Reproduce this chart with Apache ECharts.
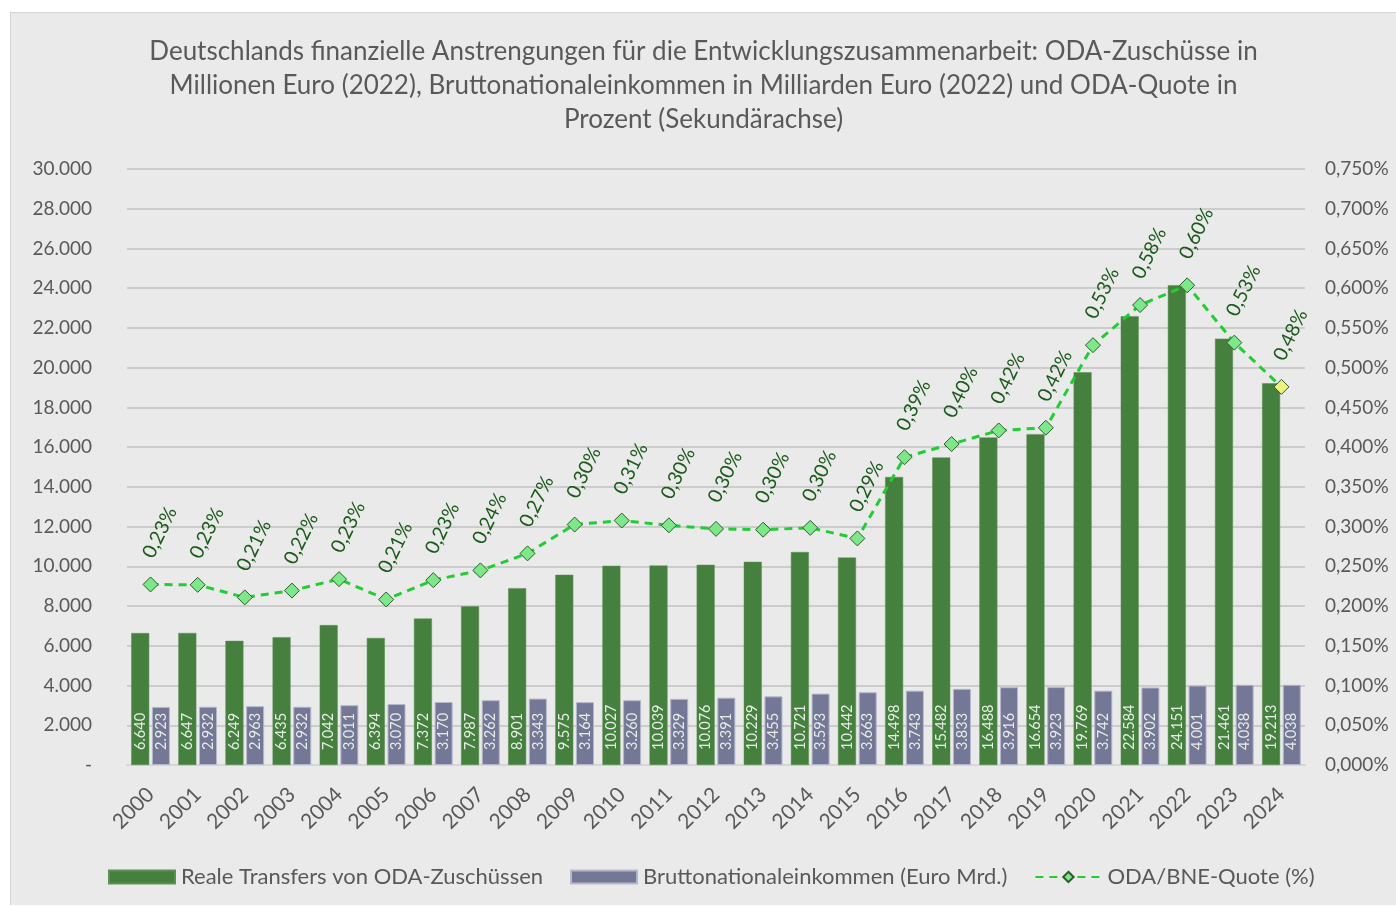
<!DOCTYPE html>
<html>
<head>
<meta charset="utf-8">
<script src="https://cdn.jsdelivr.net/npm/echarts@6/dist/echarts.min.js"></script>
<style>
  html, body { margin: 0; padding: 0; background: #ffffff; }
  #chart {
    position: absolute; left: 10px; top: 12px;
    width: 1386px; height: 893px;
    background: #eaeaea;
    border-left: 1px solid #d4d4d4; border-top: 1px solid #d4d4d4;
    box-sizing: border-box;
  }
</style>
</head>
<body>
<div id="chart"></div>
<script>
// Jahre
const years = ['2000','2001','2002','2003','2004','2005','2006','2007','2008','2009','2010','2011','2012',
  '2013','2014','2015','2016','2017','2018','2019','2020','2021','2022','2023','2024'];

// Reale Transfers von ODA-Zuschüssen (Mio. Euro, 2022)
const odaGrants = [6640, 6647, 6249, 6435, 7042, 6394, 7372, 7987, 8901, 9575, 10027, 10039, 10076,
  10229, 10721, 10442, 14498, 15482, 16488, 16654, 19769, 22584, 24151, 21461, 19213];

// Bruttonationaleinkommen (Mrd. Euro, 2022)
const gni = [2923, 2932, 2963, 2932, 3011, 3070, 3170, 3262, 3343, 3164, 3260, 3329, 3391,
  3455, 3593, 3663, 3743, 3833, 3916, 3923, 3742, 3902, 4001, 4038, 4038];

// ODA/BNE-Quote (%)
const odaRatio = [0.2272, 0.2267, 0.2109, 0.2195, 0.2339, 0.2083, 0.2326, 0.2449, 0.2663, 0.3026, 0.3076,
  0.3016, 0.2971, 0.2961, 0.2984, 0.2851, 0.3873, 0.4039, 0.4210, 0.4244, 0.5283, 0.5788, 0.6036,
  0.5315, 0.4758];

// Achsenbereiche
const leftAxis = { min: 0, max: 30000, interval: 2000 };
const rightAxis = { min: 0, max: 0.75, interval: 0.05 };

const FONT = 'Lato';
const TEXT = '#595959';

function deNumber(v) {
  return String(Math.round(v)).replace(/\B(?=(\d{3})+(?!\d))/g, '.');
}

const ratioData = odaRatio.map((v, i) => {
  const d = { value: v };
  if (i === odaRatio.length - 1) {
    d.itemStyle = { color: '#eef27a', borderColor: '#2f5a2a' };
  }
  return d;
});

const barLabel = {
  show: true,
  position: 'insideBottom',
  rotate: 90,
  align: 'left',
  verticalAlign: 'middle',
  distance: 15,
  color: '#e6eee6',
  fontFamily: FONT,
  fontSize: 14.5,
  formatter: p => deNumber(p.value)
};

const chart = echarts.init(document.getElementById('chart'), null, { renderer: 'canvas' });
chart.setOption({
  backgroundColor: '#eaeaea',
  animation: false,
  title: {
    text: 'Deutschlands finanzielle Anstrengungen für die Entwicklungszusammenarbeit: ODA-Zuschüsse in\n' +
          'Millionen Euro (2022), Bruttonationaleinkommen in Milliarden Euro (2022) und ODA-Quote in\n' +
          'Prozent (Sekundärachse)',
    left: 'center',
    top: 17,
    textStyle: { fontFamily: FONT, fontSize: 26, fontWeight: 'normal', color: TEXT, lineHeight: 34 }
  },
  legend: {
    left: 97,
    top: 853,
    padding: 0,
    itemWidth: 66,
    itemHeight: 13,
    itemGap: 27,
    textStyle: { fontFamily: FONT, fontSize: 22, color: TEXT, padding: [0, 0, 0, 1] },
    data: [
      { name: 'Reale Transfers von ODA-Zuschüssen', icon: 'rect' },
      { name: 'Bruttonationaleinkommen (Euro Mrd.)', icon: 'rect' },
      { name: 'ODA/BNE-Quote (%)' }
    ]
  },
  grid: { left: 116, right: 91, top: 156, bottom: 140, containLabel: false },
  xAxis: {
    type: 'category',
    data: years,
    axisLine: { lineStyle: { color: '#d6d6d6', width: 2 } },
    axisTick: { show: false },
    axisLabel: { rotate: 45, margin: 26, fontFamily: FONT, fontSize: 21, color: TEXT, interval: 0 }
  },
  yAxis: [
    {
      type: 'value',
      min: leftAxis.min, max: leftAxis.max, interval: leftAxis.interval,
      axisLine: { show: false },
      axisTick: { show: false },
      splitLine: { lineStyle: { color: '#c2c2c2', width: 1.5 } },
      axisLabel: {
        margin: 35, fontFamily: FONT, fontSize: 19, color: TEXT,
        formatter: v => v === 0 ? '-' : deNumber(v)
      }
    },
    {
      type: 'value',
      min: rightAxis.min, max: rightAxis.max, interval: rightAxis.interval,
      axisLine: { show: false },
      axisTick: { show: false },
      splitLine: { show: false },
      axisLabel: {
        margin: 20, fontFamily: FONT, fontSize: 19, color: TEXT,
        formatter: v => v.toFixed(3).replace('.', ',') + '%'
      }
    }
  ],
  series: [
    {
      name: 'Reale Transfers von ODA-Zuschüssen',
      type: 'bar',
      data: odaGrants,
      barWidth: 18,
      barGap: '15%',
      itemStyle: { color: '#46803e', borderColor: '#5d8f56', borderWidth: 0.5 },
      label: barLabel,
      z: 2
    },
    {
      name: 'Bruttonationaleinkommen (Euro Mrd.)',
      type: 'bar',
      data: gni,
      barWidth: 18,
      itemStyle: { color: '#747796', borderColor: '#b5b7cc', borderWidth: 1 },
      label: barLabel,
      z: 2
    },
    {
      name: 'ODA/BNE-Quote (%)',
      type: 'line',
      yAxisIndex: 1,
      data: ratioData,
      symbol: 'diamond',
      symbolSize: [15, 15],
      showAllSymbol: true,
      lineStyle: { color: '#22cc33', width: 3, type: [8, 6] },
      itemStyle: { color: '#7de88a', borderColor: '#2f5a2a', borderWidth: 1 },
      label: {
        show: true,
        position: 'top',
        distance: 25,
        offset: [-6, 0],
        rotate: 64,
        align: 'left',
        verticalAlign: 'middle',
        fontFamily: FONT,
        fontSize: 19.5,
        color: '#1b5a1b',
        formatter: p => p.value.toFixed(2).replace('.', ',') + '%'
      },
      z: 5
    }
  ]
});
</script>
</body>
</html>
